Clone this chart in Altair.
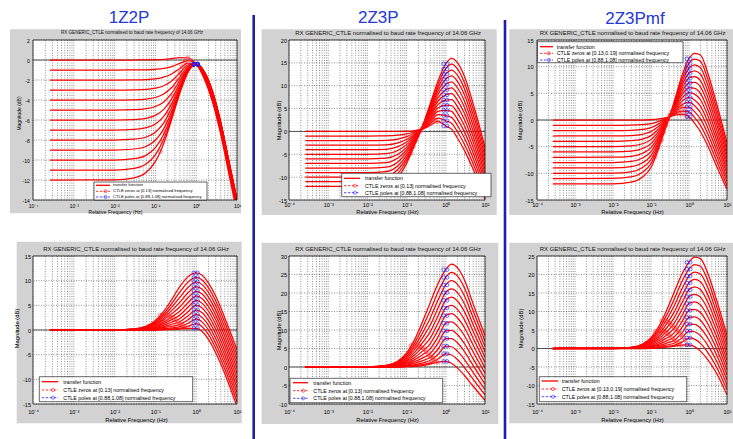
import altair as alt
import pandas as pd

FONT = "Liberation Sans"
BIG_FONT = "Liberation Sans Narrow, Liberation Sans, sans-serif"
GRAY = "#d2d2d2"
GRID = "#4a4a4a"

# ---------------- data ----------------
FREQ_A = [0.00026, 0.01, 0.03, 0.06, 0.1, 0.16, 0.25, 0.4, 0.63, 1.0, 1.6, 2.5, 4.0, 6.3, 10.0]
FREQ = [0.00026, 0.01, 0.03, 0.06, 0.1, 0.16, 0.25, 0.4, 0.63, 1.0, 1.4, 2.0, 3.0, 5.0, 10.0]

CURVES_A = [
    [0, 0, 0, 0.01, 0.03, 0.06, 0.13, 0.24, 0.2, -0.42, -1.95, -4.19, -7.47, -11.36, -15.29],
    [-1, -1, -0.99, -0.98, -0.93, -0.84, -0.66, -0.33, -0.07, -0.42, -1.77, -3.93, -7.17, -11.05, -14.96],
    [-2, -2, -1.99, -1.96, -1.89, -1.72, -1.4, -0.84, -0.3, -0.42, -1.64, -3.74, -6.94, -10.81, -14.72],
    [-3, -3, -2.98, -2.94, -2.82, -2.58, -2.1, -1.28, -0.49, -0.42, -1.53, -3.59, -6.78, -10.63, -14.54],
    [-4, -4, -3.98, -3.91, -3.75, -3.4, -2.75, -1.68, -0.65, -0.42, -1.45, -3.47, -6.64, -10.49, -14.39],
    [-5, -5, -4.97, -4.87, -4.65, -4.19, -3.34, -2.01, -0.78, -0.42, -1.39, -3.38, -6.54, -10.39, -14.29],
    [-6, -6, -5.96, -5.83, -5.54, -4.94, -3.88, -2.3, -0.88, -0.42, -1.34, -3.31, -6.46, -10.31, -14.2],
    [-7, -7, -6.94, -6.77, -6.4, -5.64, -4.36, -2.55, -0.97, -0.42, -1.29, -3.26, -6.4, -10.24, -14.13],
    [-8, -8, -7.92, -7.7, -7.23, -6.29, -4.78, -2.75, -1.04, -0.42, -1.27, -3.21, -6.35, -10.19, -14.09],
    [-9, -9, -8.9, -8.62, -8.02, -6.89, -5.16, -2.93, -1.1, -0.42, -1.25, -3.19, -6.32, -10.16, -14.05],
    [-10, -10, -9.87, -9.51, -8.77, -7.42, -5.47, -3.06, -1.14, -0.42, -1.22, -3.15, -6.28, -10.12, -14.01],
    [-11, -11, -10.84, -10.38, -9.48, -7.91, -5.74, -3.18, -1.17, -0.42, -1.21, -3.13, -6.26, -10.1, -13.99],
    [-12, -11.98, -11.79, -11.23, -10.14, -8.34, -5.97, -3.27, -1.21, -0.42, -1.2, -3.12, -6.24, -10.08, -13.97],
]
CURVES_B = [
    [0, 0, 0, 0, 0.05, 0.2, 0.5, 1.3, 2.2, 1.2, 0.5, -1.5, -4.2, -8.3, -14.8],
    [-1, -1, -0.98, -0.83, -0.54, -0.07, 0.54, 1.69, 2.93, 2.33, 1.79, -0.13, -2.85, -7.11, -13.86],
    [-2, -2, -1.95, -1.67, -1.13, -0.33, 0.58, 2.08, 3.67, 3.47, 3.08, 1.25, -1.5, -5.92, -12.92],
    [-3, -3, -2.93, -2.5, -1.71, -0.6, 0.63, 2.48, 4.4, 4.6, 4.38, 2.63, -0.15, -4.73, -11.98],
    [-4, -4, -3.9, -3.33, -2.3, -0.87, 0.67, 2.87, 5.13, 5.73, 5.67, 4.0, 1.2, -3.53, -11.03],
    [-5, -5, -4.88, -4.17, -2.89, -1.13, 0.71, 3.26, 5.87, 6.87, 6.96, 5.38, 2.55, -2.34, -10.09],
    [-6, -6, -5.85, -5, -3.48, -1.4, 0.75, 3.65, 6.6, 8.0, 8.25, 6.75, 3.9, -1.15, -9.15],
    [-7, -7, -6.83, -5.83, -4.06, -1.67, 0.79, 4.04, 7.33, 9.13, 9.54, 8.13, 5.25, 0.04, -8.21],
    [-8, -8, -7.8, -6.67, -4.65, -1.93, 0.83, 4.43, 8.07, 10.27, 10.83, 9.5, 6.6, 1.23, -7.27],
    [-9, -9, -8.78, -7.5, -5.24, -2.2, 0.88, 4.83, 8.8, 11.4, 12.13, 10.88, 7.95, 2.43, -6.33],
    [-10, -10, -9.75, -8.33, -5.83, -2.47, 0.92, 5.22, 9.53, 12.53, 13.42, 12.25, 9.3, 3.62, -5.38],
    [-11, -11, -10.73, -9.17, -6.41, -2.73, 0.96, 5.61, 10.27, 13.67, 14.71, 13.63, 10.65, 4.81, -4.44],
    [-12, -12, -11.7, -10, -7, -3, 1, 6, 11, 14.8, 16, 15, 12, 6, -3.5],
]
CURVES_C = [
    [0, 0, 0, 0, 0.05, 0.2, 0.45, 0.85, 1.1, 0.6, -0.6, -2.2, -4.6, -8.2, -13.0],
    [-1, -1.0, -0.97, -0.89, -0.7, -0.26, 0.31, 1.05, 1.68, 1.51, 0.49, -1.0, -3.45, -7.2, -12.28],
    [-2, -1.99, -1.94, -1.78, -1.44, -0.72, 0.18, 1.24, 2.25, 2.42, 1.58, 0.2, -2.3, -6.2, -11.55],
    [-3, -2.99, -2.91, -2.68, -2.19, -1.18, 0.04, 1.44, 2.83, 3.33, 2.68, 1.4, -1.15, -5.2, -10.83],
    [-4, -3.99, -3.88, -3.57, -2.93, -1.63, -0.1, 1.63, 3.4, 4.23, 3.77, 2.6, 0, -4.2, -10.1],
    [-5, -4.98, -4.85, -4.46, -3.68, -2.09, -0.24, 1.83, 3.98, 5.14, 4.86, 3.8, 1.15, -3.2, -9.38],
    [-6, -5.98, -5.83, -5.35, -4.43, -2.55, -0.38, 2.03, 4.55, 6.05, 5.95, 5.0, 2.3, -2.2, -8.65],
    [-7, -6.98, -6.8, -6.24, -5.17, -3.01, -0.51, 2.22, 5.13, 6.96, 7.04, 6.2, 3.45, -1.2, -7.93],
    [-8, -7.97, -7.77, -7.13, -5.92, -3.47, -0.65, 2.42, 5.7, 7.87, 8.13, 7.4, 4.6, -0.2, -7.2],
    [-9, -8.97, -8.74, -8.03, -6.66, -3.93, -0.79, 2.61, 6.28, 8.78, 9.23, 8.6, 5.75, 0.8, -6.48],
    [-10, -9.97, -9.71, -8.92, -7.41, -4.38, -0.93, 2.81, 6.85, 9.68, 10.32, 9.8, 6.9, 1.8, -5.75],
    [-11, -10.96, -10.68, -9.81, -8.15, -4.84, -1.06, 3.0, 7.43, 10.59, 11.41, 11.0, 8.05, 2.8, -5.03],
    [-12, -11.96, -11.65, -10.7, -8.9, -5.3, -1.2, 3.2, 8.0, 11.5, 12.5, 12.2, 9.2, 3.8, -4.3],
]
CURVES_D = [
    [0, 0, 0, 0, 0, 0.05, 0.1, 0.2, 0.35, 0.35, -0.3, -1.9, -4.6, -8.8, -15.5],
    [0, 0, 0, 0.02, 0.04, 0.12, 0.21, 0.36, 0.76, 1.29, 0.65, -0.95, -3.64, -7.86, -14.54],
    [0, 0, 0.01, 0.05, 0.11, 0.26, 0.45, 0.69, 1.37, 2.23, 1.6, 0, -2.68, -6.92, -13.58],
    [0, 0, 0.02, 0.09, 0.21, 0.46, 0.76, 1.14, 2.08, 3.16, 2.55, 0.95, -1.73, -5.98, -12.63],
    [0, 0, 0.04, 0.14, 0.33, 0.69, 1.14, 1.68, 2.86, 4.1, 3.5, 1.9, -0.77, -5.03, -11.67],
    [0, 0, 0.05, 0.2, 0.48, 0.97, 1.6, 2.33, 3.7, 5.04, 4.45, 2.85, 0.19, -4.09, -10.71],
    [0, 0, 0.07, 0.26, 0.64, 1.28, 2.1, 3.05, 4.6, 5.98, 5.4, 3.8, 1.15, -3.15, -9.75],
    [0, 0, 0.09, 0.34, 0.81, 1.62, 2.66, 3.84, 5.54, 6.91, 6.35, 4.75, 2.11, -2.21, -8.79],
    [0, 0.02, 0.12, 0.42, 1.01, 2.0, 3.27, 4.71, 6.53, 7.85, 7.3, 5.7, 3.07, -1.27, -7.83],
    [0, 0.02, 0.14, 0.5, 1.22, 2.4, 3.92, 5.65, 7.55, 8.79, 8.25, 6.65, 4.03, -0.33, -6.88],
    [0, 0.02, 0.16, 0.6, 1.44, 2.83, 4.63, 6.65, 8.61, 9.73, 9.2, 7.6, 4.98, 0.62, -5.92],
    [0, 0.03, 0.19, 0.7, 1.68, 3.29, 5.37, 7.71, 9.7, 10.66, 10.15, 8.55, 5.94, 1.56, -4.96],
    [0, 0.03, 0.22, 0.8, 1.93, 3.77, 6.16, 8.83, 10.82, 11.6, 11.1, 9.5, 6.9, 2.5, -4.0],
]
CURVES_E = [
    [0, 0, 0, 0, 0.1, 0.2, 0.4, 0.8, 1.3, 1.5, 1.0, -0.3, -2.3, -5.2, -9.0],
    [0, 0, 0.01, 0.03, 0.17, 0.34, 0.62, 1.11, 2.14, 3.57, 3.23, 1.96, -0.15, -3.35, -7.54],
    [0, 0, 0.03, 0.09, 0.31, 0.61, 1.06, 1.75, 3.36, 5.63, 5.47, 4.22, 2.0, -1.5, -6.08],
    [0, 0, 0.05, 0.17, 0.5, 0.98, 1.66, 2.61, 4.8, 7.7, 7.7, 6.48, 4.15, 0.35, -4.63],
    [0, 0.01, 0.08, 0.28, 0.74, 1.44, 2.4, 3.66, 6.39, 9.77, 9.93, 8.73, 6.3, 2.2, -3.17],
    [0, 0.01, 0.11, 0.4, 1.01, 1.98, 3.27, 4.9, 8.08, 11.83, 12.17, 10.99, 8.45, 4.05, -1.71],
    [0, 0.02, 0.15, 0.53, 1.32, 2.58, 4.23, 6.28, 9.91, 13.9, 14.4, 13.25, 10.6, 5.9, -0.25],
    [0, 0.02, 0.19, 0.68, 1.66, 3.24, 5.3, 7.81, 11.82, 15.97, 16.63, 15.51, 12.75, 7.75, 1.21],
    [0, 0.03, 0.24, 0.84, 2.04, 3.97, 6.47, 9.48, 13.81, 18.03, 18.87, 17.77, 14.9, 9.6, 2.67],
    [0, 0.03, 0.28, 1.01, 2.43, 4.74, 7.72, 11.27, 15.89, 20.1, 21.1, 20.03, 17.05, 11.45, 4.13],
    [0, 0.04, 0.34, 1.2, 2.86, 5.58, 9.07, 13.2, 18.03, 22.17, 23.33, 22.28, 19.2, 13.3, 5.58],
    [0, 0.04, 0.39, 1.39, 3.32, 6.46, 10.49, 15.24, 20.23, 24.23, 25.57, 24.54, 21.35, 15.15, 7.04],
    [0, 0.05, 0.45, 1.6, 3.8, 7.4, 12.0, 17.4, 22.5, 26.3, 27.8, 26.8, 23.5, 17.0, 8.5],
]
CURVES_F = [
    [0, 0, 0, 0, 0.1, 0.2, 0.35, 0.6, 0.9, 1.0, 0.5, -0.7, -2.8, -6.2, -12.5],
    [0, 0, 0.01, 0.02, 0.15, 0.31, 0.53, 0.87, 1.65, 2.86, 2.52, 1.38, -0.83, -4.52, -11.17],
    [0, 0, 0.02, 0.07, 0.26, 0.52, 0.9, 1.42, 2.74, 4.72, 4.53, 3.47, 1.13, -2.83, -9.83],
    [0, 0, 0.04, 0.13, 0.41, 0.82, 1.4, 2.17, 4.02, 6.58, 6.55, 5.55, 3.1, -1.15, -8.5],
    [0, 0.01, 0.06, 0.21, 0.58, 1.18, 2.01, 3.08, 5.44, 8.43, 8.57, 7.63, 5.07, 0.53, -7.17],
    [0, 0.01, 0.08, 0.3, 0.79, 1.61, 2.73, 4.16, 6.95, 10.29, 10.58, 9.72, 7.03, 2.22, -5.83],
    [0, 0.01, 0.11, 0.4, 1.02, 2.08, 3.53, 5.35, 8.57, 12.15, 12.6, 11.8, 9.0, 3.9, -4.5],
    [0, 0.02, 0.14, 0.51, 1.28, 2.61, 4.42, 6.68, 10.27, 14.01, 14.62, 13.88, 10.97, 5.58, -3.17],
    [0, 0.02, 0.17, 0.63, 1.56, 3.18, 5.4, 8.13, 12.05, 15.87, 16.63, 15.97, 12.93, 7.27, -1.83],
    [0, 0.03, 0.21, 0.76, 1.87, 3.8, 6.44, 9.69, 13.9, 17.73, 18.65, 18.05, 14.9, 8.95, -0.5],
    [0, 0.03, 0.25, 0.9, 2.19, 4.46, 7.56, 11.36, 15.81, 19.58, 20.67, 20.13, 16.87, 10.63, 0.83],
    [0, 0.03, 0.29, 1.04, 2.54, 5.16, 8.75, 13.13, 17.78, 21.44, 22.68, 22.22, 18.83, 12.32, 2.17],
    [0, 0.04, 0.33, 1.2, 2.9, 5.9, 10.0, 15.0, 19.8, 23.3, 24.7, 24.3, 20.8, 14.0, 3.5],
]

# CTLE zero markers (one per curve, or two for the "mf" variant)
ZERO_F_A = [0.133, 0.150, 0.168, 0.190, 0.214, 0.241, 0.273, 0.309, 0.351, 0.400, 0.459, 0.529, 0.617]
ZERO_DB_A = [-9.14, -8.18, -7.23, -6.30, -5.38, -4.48, -3.61, -2.78, -2.00, -1.28, -0.65, -0.14, 0.21]
ZERO_F = [0.13, 0.148, 0.168, 0.191, 0.217, 0.247, 0.281, 0.319, 0.363, 0.413, 0.47, 0.534, 0.606]
ZERO_F2 = [0.19, 0.216, 0.245, 0.279, 0.317, 0.361, 0.41, 0.466, 0.53, 0.603, 0.686, 0.78, 0.885]
ZERO_DB_B = [-4.77, -3.34, -2.1, -0.98, -0.05, 0.64, 1.47, 2.04, 2.42, 2.61, 2.64, 2.48, 2.12]
ZERO_DB_C1 = [-6.89, -5.39, -4.0, -2.68, -1.55, -0.66, 0.22, 0.84, 1.27, 1.54, 1.6, 1.45, 1.08]
ZERO_DB_C2 = [-3.72, -2.31, -1.09, 0.01, 0.9, 1.62, 2.17, 2.55, 2.73, 2.7, 2.28, 1.6, 0.73]
ZERO_DB_D = [2.96, 3.02, 3.03, 3.0, 2.86, 2.6, 2.34, 1.98, 1.57, 1.21, 0.93, 0.61, 0.34]
ZERO_DB_E = [5.8, 5.94, 5.96, 5.92, 5.67, 5.18, 4.74, 4.12, 3.4, 2.76, 2.32, 1.77, 1.26]
ZERO_DB_F1 = [4.57, 4.73, 4.8, 4.85, 4.69, 4.31, 3.98, 3.47, 2.86, 2.3, 1.89, 1.37, 0.87]
ZERO_DB_F2 = [7.48, 7.57, 7.42, 7.2, 6.78, 6.19, 5.52, 5.1, 4.54, 3.84, 3.11, 2.21, 0.97]

POLE_F = [0.88, 1.08]

X_MAJOR = [1e-4, 1e-3, 1e-2, 1e-1, 1.0, 10.0]
X_MINOR = [m * 10.0 ** d for d in range(-4, 1) for m in range(1, 10)] + [10.0]

PANEL_TITLE = "RX GENERIC_CTLE normalised to baud rate frequency of  14.06  GHz"
LEG_TF = "transfer function"
LEG_POLES = "CTLE poles at [0.88,1.08] normalised frequency"
LEG_Z1 = "CTLE zeros at [0.13] normalised frequency"
LEG_Z2 = "CTLE zeros at [0.13,0.19] normalised frequency"

X_LABEL_EXPR = ("datum.value < 0.0005 ? '10\u207b\u2074' : datum.value < 0.005 ? '10\u207b\u00b3' : "
                "datum.value < 0.05 ? '10\u207b\u00b2' : datum.value < 0.5 ? '10\u207b\u00b9' : "
                "datum.value < 5 ? '10\u2070' : '10\u00b9'")
Y_LABEL_EXPR = "datum.value < 0 ? '-' + abs(datum.value) : '' + datum.value"

ONE = pd.DataFrame({"a": [0]})


# ---------------- helpers ----------------
def rect(x1, x2, y1, y2, fill, stroke=None, sw=0.0):
    kw = dict(fill=fill)
    if stroke:
        kw.update(stroke=stroke, strokeWidth=sw)
    return alt.Chart(ONE).mark_rect(**kw).encode(
        x=alt.value(x1), x2=alt.value(x2), y=alt.value(y1), y2=alt.value(y2))


def hline(x1, x2, y, color, sw, dash=None):
    kw = dict(color=color, strokeWidth=sw)
    if dash:
        kw["strokeDash"] = dash
    return alt.Chart(ONE).mark_rule(**kw).encode(x=alt.value(x1), x2=alt.value(x2), y=alt.value(y))


def vline(x, y1, y2, color, sw):
    return alt.Chart(ONE).mark_rule(color=color, strokeWidth=sw).encode(
        x=alt.value(x), y=alt.value(y1), y2=alt.value(y2))


def text(s, x, y, size, color="#000000", align="left", font=FONT):
    return alt.Chart(ONE).mark_text(text=s, align=align, baseline="middle", fontSize=size,
                                    font=font, color=color).encode(x=alt.value(x), y=alt.value(y))


def dot(x, y, color, size):
    return alt.Chart(ONE).mark_point(shape="circle", filled=False, color=color, size=size,
                                     strokeWidth=0.8).encode(x=alt.value(x), y=alt.value(y))


def curves_df(freqs, curves):
    rows = []
    for k, vals in enumerate(curves):
        for f, v in zip(freqs, vals):
            rows.append({"f": f, "db": v, "k": k})
    return pd.DataFrame(rows)


def poles_df(freqs, curves):
    i = freqs.index(1.0)
    return pd.DataFrame([{"f": pf, "db": c[i]} for c in curves for pf in POLE_F])


def zeros_df(pairs):
    rows = []
    for fs, dbs in pairs:
        for f, v in zip(fs, dbs):
            rows.append({"f": f, "db": v})
    return pd.DataFrame(rows)


def panel(c):
    w, h = c["w"], c["h"]
    xs = alt.Scale(type="log", domain=[1e-4, 10], nice=False)
    ys = alt.Scale(domain=c["ydom"], nice=False, zero=False)
    xaxis = alt.Axis(values=X_MAJOR, labelExpr=X_LABEL_EXPR, grid=False, ticks=False, tickSize=0,
                     domain=False, labelFlush=False, labelOverlap=False, labelFont=FONT,
                     labelFontSize=c["tick_fs"], labelColor="#000000", labelPadding=c["xlab_pad"],
                     title="Relative Frequency (Hz)", titleFont=FONT, titleFontSize=c["axt_fs"],
                     titleFontWeight="normal", titleColor="#000000", titleX=c["xt_x"],
                     titleY=c["xt_y"], titleBaseline="middle", titleAlign="center", zindex=1)
    yaxis = alt.Axis(values=c["yticks"], labelExpr=Y_LABEL_EXPR, grid=False, ticks=False, tickSize=0,
                     domain=False, labelFlush=False, labelOverlap=False, labelFont=FONT,
                     labelFontSize=c["tick_fs"], labelColor="#000000", labelPadding=c["ylab_pad"],
                     title="Magnitude (dB)", titleFont=FONT, titleFontSize=c["axt_fs"],
                     titleFontWeight="normal", titleColor="#000000", titleX=c["yt_x"],
                     titleY=c["yt_y"], titleBaseline="middle", titleAlign="center", zindex=1)
    X = alt.X("f:Q", scale=xs, axis=xaxis)
    Y = alt.Y("db:Q", scale=ys, axis=yaxis)

    layers = list(c.get("pre", []))
    gx1, gx2, gy1, gy2 = c["gray"]
    layers.append(rect(gx1, gx2, gy1, gy2, GRAY))
    layers.append(rect(0, w, 0, h, "white"))
    layers.append(alt.Chart(pd.DataFrame({"f": X_MINOR})).mark_rule(
        color=GRID, strokeWidth=0.6, strokeDash=[1, 1.5]).encode(x=X))
    layers.append(alt.Chart(pd.DataFrame({"db": c["yticks"]})).mark_rule(
        color=GRID, strokeWidth=0.6, strokeDash=[1, 1.5]).encode(y=Y))
    layers.append(alt.Chart(pd.DataFrame({"db": [0]})).mark_rule(
        color="#303030", strokeWidth=0.8).encode(y=Y))
    layers.append(alt.Chart(curves_df(c["freqs"], c["curves"])).mark_line(
        color="#ff0000", strokeWidth=1.25, interpolate="monotone", clip=True).encode(
        x=X, y=Y, detail="k:N"))
    layers.append(alt.Chart(zeros_df(c["zeros"])).mark_point(
        shape="circle", filled=False, color="#ff2020", size=14, strokeWidth=0.8, clip=True).encode(x=X, y=Y))
    layers.append(alt.Chart(poles_df(c["freqs"], c["curves"])).mark_point(
        shape="circle", filled=False, color="#2020ff", size=13, strokeWidth=1.0, clip=True).encode(x=X, y=Y))
    layers.append(rect(0, w, 0, h, "transparent", "#000000", 0.7))

    # legend
    bx1, bx2, by1, by2 = c["leg_box"]
    r1, r2, r3 = c["leg_rows"]
    sx1, sx2 = c["leg_sample"]
    tx = c["leg_text_x"]
    fs = c["leg_fs"]
    mx = sx1 + (sx2 - sx1) * 0.68
    layers += [
        rect(bx1, bx2, by1, by2, "white", "#000000", 0.6),
        hline(sx1, sx2, r1, "#ff0000", 1.3),
        hline(sx1, sx2, r2, "#ff0000", 0.8, [2.5, 1.5]),
        dot(mx, r2, "#ff0000", 10),
        hline(sx1, sx2, r3, "#2020ff", 0.8, [2.5, 1.5]),
        dot(mx, r3, "#2020ff", 10),
        text(LEG_TF, tx, r1, fs),
        text(c["zero_label"], tx, r2, fs),
        text(LEG_POLES, tx, r3, fs),
    ]
    layers.append(text(PANEL_TITLE, c["title_x"], -6.7, c["title_fs"], color="#111111", align="center"))
    layers += c.get("extra", [])
    return alt.layer(*layers).properties(width=w, height=h)


TITLE_BLUE = "#2538d8"
LINE_BLUE = "#1e1ea6"

common_top = dict(h=160, xlab_pad=2.8, xt_y=11.5)
common_bot = dict(h=148, xlab_pad=5.5, xt_y=15.5)
big = dict(tick_fs=5.6, axt_fs=5.8, leg_fs=5.3, title_fs=6.0)

cfg_A = dict(common_top, w=204, freqs=FREQ_A, curves=CURVES_A, ydom=[-14, 2],
             yticks=[-14, -12, -10, -8, -6, -4, -2, 0, 2],
             zeros=[(ZERO_F_A, ZERO_DB_A)], zero_label=LEG_Z1,
             tick_fs=5.0, axt_fs=5.0, leg_fs=4.2, title_fs=4.6, xlab_pad=3.5,
             ylab_pad=3.7, yt_x=-14.7, yt_y=73, xt_x=82, xt_y=11,
             gray=(-23, 208, -10.7, 173.3), title_x=99,
             leg_box=(61, 174, 142, 160), leg_rows=(145.3, 151.3, 157.0),
             leg_sample=(63, 77), leg_text_x=80,
             pre=[rect(-33, 700, -40, 399, "white")],
             extra=[text("1Z2P", 96, -21.7, 17, color=TITLE_BLUE, align="center", font=BIG_FONT)])

cfg_B = dict(common_top, **big, w=196, freqs=FREQ, curves=CURVES_B, ydom=[-15, 20],
             yticks=[-15, -10, -5, 0, 5, 10, 15, 20],
             zeros=[(ZERO_F, ZERO_DB_B)], zero_label=LEG_Z1,
             ylab_pad=2.5, yt_x=-10.7, yt_y=80, xt_x=98,
             gray=(-27.3, 207.7, -10.7, 175), title_x=99,
             leg_box=(52.7, 202, 133.3, 156.7), leg_rows=(138.3, 145.7, 152.7),
             leg_sample=(55, 71), leg_text_x=76,
             extra=[text("2Z3P", 89.3, -21.7, 17, color=TITLE_BLUE, align="center", font=BIG_FONT),
                    vline(-35.3, -25, 399, LINE_BLUE, 2.6)])

cfg_C = dict(common_top, **big, w=190, freqs=FREQ, curves=CURVES_C, ydom=[-15, 15],
             yticks=[-15, -10, -5, 0, 5, 10, 15],
             zeros=[(ZERO_F, ZERO_DB_C1), (ZERO_F2, ZERO_DB_C2)], zero_label=LEG_Z2,
             ylab_pad=4, yt_x=-17.5, yt_y=80, xt_x=95, xt_y=11,
             gray=(-27.7, 196, -10.7, 175), title_x=95.5,
             leg_box=(0.5, 146, 1.7, 22.7), leg_rows=(6.7, 13.3, 20.0),
             leg_sample=(3, 16), leg_text_x=19.7,
             extra=[text("2Z3Pmf", 98, -21, 17, color=TITLE_BLUE, align="center", font=BIG_FONT),
                    vline(-32, -20, 399, LINE_BLUE, 2.6)])

cfg_D = dict(common_bot, **big, w=204, freqs=FREQ, curves=CURVES_D, ydom=[-15, 15],
             yticks=[-15, -10, -5, 0, 5, 10, 15],
             zeros=[(ZERO_F, ZERO_DB_D)], zero_label=LEG_Z1,
             ylab_pad=2.5, yt_x=-16.3, yt_y=72, xt_x=103,
             gray=(-16.3, 208.7, -14.3, 167.3), title_x=103,
             leg_box=(6.3, 159.7, 120.7, 145.7), leg_rows=(125.7, 134.0, 141.7),
             leg_sample=(8.7, 25.3), leg_text_x=30.3)

cfg_E = dict(common_bot, **big, w=196, freqs=FREQ, curves=CURVES_E, ydom=[-10, 30],
             yticks=[-10, -5, 0, 5, 10, 15, 20, 25, 30],
             zeros=[(ZERO_F, ZERO_DB_E)], zero_label=LEG_Z1,
             ylab_pad=2.5, yt_x=-10.7, yt_y=74, xt_x=98,
             gray=(-27.3, 209.3, -13.3, 168), title_x=99,
             leg_box=(1, 153.7, 122.3, 146.7), leg_rows=(126.7, 134.7, 142.3),
             leg_sample=(4, 19), leg_text_x=24.3)

cfg_F = dict(common_bot, **big, w=190, freqs=FREQ, curves=CURVES_F, ydom=[-15, 25],
             yticks=[-15, -10, -5, 0, 5, 10, 15, 20, 25],
             zeros=[(ZERO_F, ZERO_DB_F1), (ZERO_F2, ZERO_DB_F2)], zero_label=LEG_Z2,
             ylab_pad=3, yt_x=-17, yt_y=72, xt_x=95,
             gray=(-27.7, 196, -13.3, 167.3), title_x=95.5,
             leg_box=(2.3, 149.7, 120.7, 145.7), leg_rows=(125.0, 133.0, 140.7),
             leg_sample=(4.7, 21.3), leg_text_x=24.7)

chart = alt.concat(
    panel(cfg_A), panel(cfg_B), panel(cfg_C),
    panel(cfg_D), panel(cfg_E), panel(cfg_F),
    columns=3, spacing={"row": 56, "column": 52}, bounds="flush",
).properties(
    padding=0, background="white"
).configure_view(stroke=None)

chart.save("out.html", embed_options={"renderer": "svg", "actions": False})
